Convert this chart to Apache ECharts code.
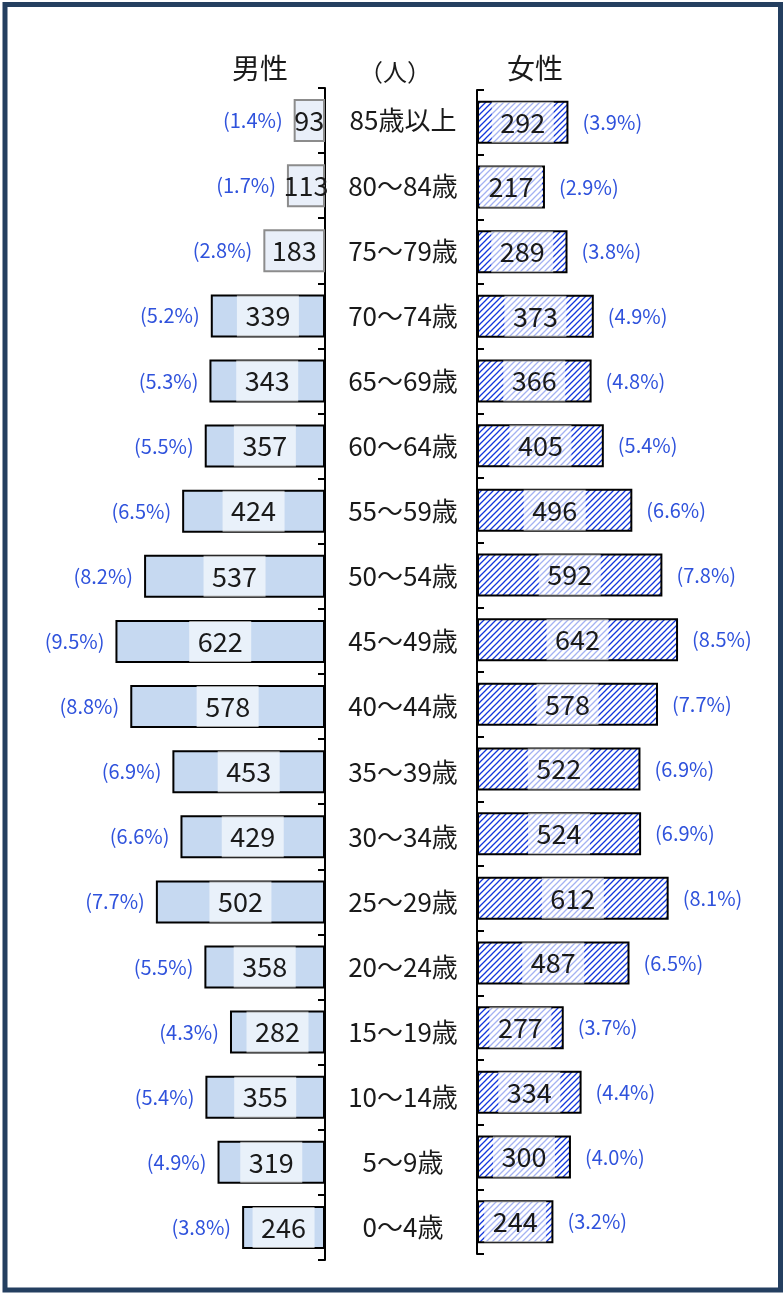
<!DOCTYPE html>
<html><head><meta charset="utf-8">
<script src="https://cdn.jsdelivr.net/npm/echarts@6/dist/echarts.min.js"></script>
<style>html,body{margin:0;padding:0;background:#fff}#c{width:783px;height:1293px}</style>
</head><body><div id="c"></div>
<script>
const categories = ['85歳以上','80～84歳','75～79歳','70～74歳','65～69歳','60～64歳','55～59歳','50～54歳','45～49歳','40～44歳','35～39歳','30～34歳','25～29歳','20～24歳','15～19歳','10～14歳','5～9歳','0～4歳'];
const maleValues = [93,113,183,339,343,357,424,537,622,578,453,429,502,358,282,355,319,246];
const malePct = [1.4,1.7,2.8,5.2,5.3,5.5,6.5,8.2,9.5,8.8,6.9,6.6,7.7,5.5,4.3,5.4,4.9,3.8];
const femaleValues = [292,217,289,373,366,405,496,592,642,578,522,524,612,487,277,334,300,244];
const femalePct = [3.9,2.9,3.8,4.9,4.8,5.4,6.6,7.8,8.5,7.7,6.9,6.9,8.1,6.5,3.7,4.4,4.0,3.2];
const headerMale = '男性', headerUnit = '（人）', headerFemale = '女性';

const FONT = '"Noto Sans CJK JP","Noto Sans",sans-serif';
const PCT_COLOR = '#2F52DC';

function makeHatch(){
  const s = 6;
  const c = document.createElement('canvas'); c.width = s; c.height = s;
  const g = c.getContext('2d');
  g.fillStyle = '#fff'; g.fillRect(0,0,s,s);
  g.strokeStyle = '#1236DC'; g.lineWidth = 1.3;
  g.beginPath();
  g.moveTo(-1,s+1); g.lineTo(s+1,-1);
  g.moveTo(-1,1); g.lineTo(1,-1);
  g.moveTo(s-1,s+1); g.lineTo(s+1,s-1);
  g.stroke();
  return c;
}
const hatch = {image: makeHatch(), repeat: 'repeat'};

const numLabel = {
  show: true, position: 'inside', fontSize: 27, color: '#1a1a1a', fontFamily: FONT,
  backgroundColor: 'rgba(255,255,255,0.62)', width: 62, height: 41, lineHeight: 41,
  align: 'center', verticalAlign: 'middle'
};
const tickStyle = {show: true, inside: true, length: 7, interval: 0, lineStyle: {color: '#000', width: 2}};

const chart = echarts.init(document.getElementById('c'), null, {renderer: 'canvas'});
chart.setOption({
  animation: false,
  backgroundColor: '#fff',
  grid: [
    {left: 10, right: 458, top: 88, bottom: 33},
    {left: 477, right: 6, top: 90, bottom: 39}
  ],
  xAxis: [
    {gridIndex: 0, type: 'value', inverse: true, min: 0, max: 935, show: false},
    {gridIndex: 1, type: 'value', min: 0, max: 958, show: false}
  ],
  yAxis: [
    {gridIndex: 0, type: 'category', data: categories, inverse: true, position: 'right',
     axisLine: {show: true, lineStyle: {color: '#000', width: 2}},
     axisTick: tickStyle,
     axisLabel: {margin: 78, align: 'center', fontSize: 26, color: '#1a1a1a', fontFamily: FONT}},
    {gridIndex: 1, type: 'category', data: categories, inverse: true, position: 'left',
     axisLine: {show: true, lineStyle: {color: '#000', width: 2}},
     axisTick: tickStyle,
     axisLabel: {show: false}}
  ],
  series: [
    {type: 'bar', xAxisIndex: 0, yAxisIndex: 0, barWidth: 43, barGap: '-100%',
     data: maleValues.map(v => v < 200 ? {value: v, itemStyle: {color: '#E9EFF9', borderColor: '#8C8C8C'}, label: {backgroundColor: 'transparent'}} : v),
     itemStyle: {color: '#C6D9F1', borderColor: '#000', borderWidth: 2},
     label: numLabel, z: 3},
    {type: 'bar', xAxisIndex: 0, yAxisIndex: 0, barWidth: 43, barGap: '-100%', silent: true,
     data: maleValues, itemStyle: {color: 'rgba(0,0,0,0)'},
     label: {show: true, position: 'left', distance: 11, fontSize: 20, color: PCT_COLOR, fontFamily: FONT,
       formatter: p => '(' + malePct[p.dataIndex].toFixed(1) + '%)'}, z: 2},
    {type: 'bar', xAxisIndex: 1, yAxisIndex: 1, barWidth: 43, barGap: '-100%',
     data: femaleValues,
     itemStyle: {color: hatch, borderColor: '#000', borderWidth: 2},
     label: numLabel, z: 3},
    {type: 'bar', xAxisIndex: 1, yAxisIndex: 1, barWidth: 43, barGap: '-100%', silent: true,
     data: femaleValues, itemStyle: {color: 'rgba(0,0,0,0)'},
     label: {show: true, position: 'right', distance: 14, fontSize: 20, color: PCT_COLOR, fontFamily: FONT,
       formatter: p => '(' + femalePct[p.dataIndex].toFixed(1) + '%)'}, z: 2}
  ],
  graphic: [
    {type: 'rect', shape: {x: 5, y: 4.5, width: 775.5, height: 1285.5}, style: {fill: 'none', stroke: '#243F60', lineWidth: 5}, silent: true},
    {type: 'text', x: 260, y: 68, style: {text: headerMale, font: '28px ' + FONT, fill: '#1a1a1a', align: 'center', verticalAlign: 'middle'}},
    {type: 'text', x: 395, y: 72, style: {text: headerUnit, font: '24px ' + FONT, fill: '#1a1a1a', align: 'center', verticalAlign: 'middle'}},
    {type: 'text', x: 535, y: 68, style: {text: headerFemale, font: '28px ' + FONT, fill: '#1a1a1a', align: 'center', verticalAlign: 'middle'}}
  ]
});
</script></body></html>
